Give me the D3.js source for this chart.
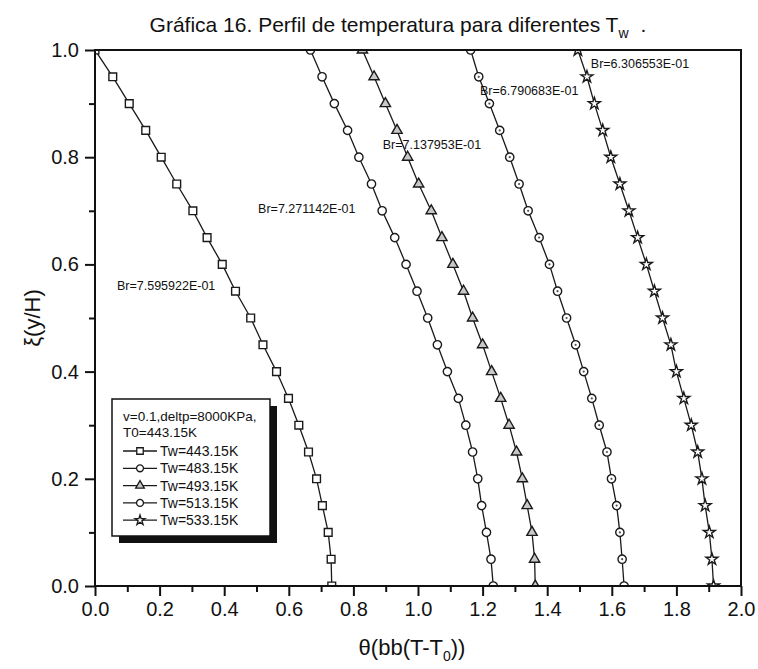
<!DOCTYPE html>
<html>
<head>
<meta charset="utf-8">
<script src="https://cdn.jsdelivr.net/npm/d3@7"></script>
<style>
  html, body { margin: 0; padding: 0; background: #fff; }
  svg { display: block; font-family: Arial, "Liberation Sans", sans-serif; }
</style>
</head>
<body>
<svg id="chart" width="758" height="669"></svg>
<script>
// Dimensionless height ξ = y/H for every profile
const xi = [0.00, 0.05, 0.10, 0.15, 0.20, 0.25, 0.30, 0.35, 0.40, 0.45, 0.50,
            0.55, 0.60, 0.65, 0.70, 0.75, 0.80, 0.85, 0.90, 0.95, 1.00];

// θ values for each wall temperature (same order as xi)
const thetaTw443 = [0.733, 0.731, 0.722, 0.704, 0.686, 0.661, 0.631, 0.599, 0.562, 0.520, 0.482,
                    0.435, 0.394, 0.347, 0.303, 0.253, 0.205, 0.157, 0.106, 0.055, 0.000];
const thetaTw483 = [1.233, 1.226, 1.212, 1.197, 1.185, 1.169, 1.148, 1.125, 1.091, 1.060, 1.030,
                    0.997, 0.963, 0.928, 0.889, 0.856, 0.817, 0.782, 0.741, 0.703, 0.667];
const thetaTw493 = [1.363, 1.361, 1.353, 1.338, 1.323, 1.305, 1.282, 1.256, 1.228, 1.200, 1.169,
                    1.141, 1.108, 1.074, 1.041, 1.002, 0.968, 0.935, 0.899, 0.864, 0.828];
const thetaTw513 = [1.638, 1.632, 1.625, 1.615, 1.599, 1.585, 1.561, 1.538, 1.513, 1.488, 1.460,
                    1.432, 1.407, 1.375, 1.341, 1.313, 1.284, 1.253, 1.221, 1.188, 1.163];
const thetaTw533 = [1.915, 1.910, 1.902, 1.889, 1.879, 1.866, 1.846, 1.823, 1.800, 1.783, 1.757,
                    1.732, 1.707, 1.680, 1.653, 1.625, 1.597, 1.572, 1.546, 1.523, 1.495];

const seriesNames = ["Tw=443.15K", "Tw=483.15K", "Tw=493.15K", "Tw=513.15K", "Tw=533.15K"];
const brinkman = ["Br=7.595922E-01", "Br=7.271142E-01", "Br=7.137953E-01", "Br=6.790683E-01", "Br=6.306553E-01"];

const xTicks = [0.0, 0.2, 0.4, 0.6, 0.8, 1.0, 1.2, 1.4, 1.6, 1.8, 2.0];
const yTicks = [0.0, 0.2, 0.4, 0.6, 0.8, 1.0];
const xMinorTicks = [0.1, 0.3, 0.5, 0.7, 0.9, 1.1, 1.3, 1.5, 1.7, 1.9];
const yMinorTicks = [0.1, 0.3, 0.5, 0.7, 0.9];

const legendHeader = ["v=0.1,deltp=8000KPa,", "T0=443.15K"];

// ---------- layout ----------
const svg = d3.select("#chart");
const plot = { left: 95, right: 741, top: 50, bottom: 586 };

const x = d3.scaleLinear().domain([0, 2]).range([plot.left, plot.right]);
const y = d3.scaleLinear().domain([0, 1]).range([plot.bottom, plot.top]);

const allSeries = [thetaTw443, thetaTw483, thetaTw493, thetaTw513, thetaTw533];
const markerStyle = [
  { type: d3.symbolSquare,   size: 60, fill: "#fff",    dot: false },
  { type: d3.symbolCircle,   size: 54, fill: "#fff",    dot: false },
  { type: d3.symbolTriangle, size: 46, fill: "#c8c8c8", dot: false },
  { type: d3.symbolCircle,   size: 54, fill: "#fff",    dot: true  },
  { type: d3.symbolStar,     size: 44, fill: "#fff",    dot: false }
];
// anchor of each Br annotation, in data units (θ, ξ)
const brAnchor = [[0.068, 0.552], [0.505, 0.696], [0.891, 0.815], [1.192, 0.916], [1.535, 0.966]];

// ---------- title ----------
const title = svg.append("text")
  .attr("x", 398).attr("y", 32)
  .attr("text-anchor", "middle")
  .attr("font-size", 21)
  .attr("fill", "#111");
title.append("tspan").text("Gráfica 16. Perfil de temperatura para diferentes T");
title.append("tspan").attr("font-size", 14).attr("dy", 6).text("w");
title.append("tspan").attr("dy", -6).attr("dx", 12).attr("font-size", 21).text(".");

// ---------- axes ----------
const axisX = svg.append("g").attr("transform", `translate(0,${plot.bottom})`)
  .call(d3.axisBottom(x).tickValues(xTicks).tickFormat(d3.format(".1f")).tickSize(10).tickPadding(6));
const axisXMinor = svg.append("g").attr("transform", `translate(0,${plot.bottom})`)
  .call(d3.axisBottom(x).tickValues(xMinorTicks).tickFormat("").tickSize(6));
const axisY = svg.append("g").attr("transform", `translate(${plot.left},0)`)
  .call(d3.axisLeft(y).tickValues(yTicks).tickFormat(d3.format(".1f")).tickSize(10).tickPadding(6));
const axisYMinor = svg.append("g").attr("transform", `translate(${plot.left},0)`)
  .call(d3.axisLeft(y).tickValues(yMinorTicks).tickFormat("").tickSize(6));

[axisX, axisXMinor, axisY, axisYMinor].forEach(g => {
  g.select(".domain").remove();
  g.selectAll(".tick line").attr("stroke", "#111").attr("stroke-width", 2);
  g.selectAll(".tick text").attr("font-size", 20).attr("fill", "#111")
    .attr("font-family", "Arial, 'Liberation Sans', sans-serif");
});

// frame
svg.append("rect")
  .attr("x", plot.left).attr("y", plot.top)
  .attr("width", plot.right - plot.left).attr("height", plot.bottom - plot.top)
  .attr("fill", "none").attr("stroke", "#111").attr("stroke-width", 2);

// axis titles
const xTitle = svg.append("text")
  .attr("x", 412).attr("y", 655)
  .attr("text-anchor", "middle").attr("font-size", 22).attr("fill", "#111");
xTitle.append("tspan").text("θ(bb(T-T");
xTitle.append("tspan").attr("font-size", 14).attr("dy", 6).text("0");
xTitle.append("tspan").attr("dy", -6).text("))");

svg.append("text")
  .attr("transform", `translate(40,${(plot.top + plot.bottom) / 2}) rotate(-90)`)
  .attr("text-anchor", "middle").attr("font-size", 22).attr("fill", "#111")
  .text("ξ(y/H)");

// ---------- data ----------
svg.append("clipPath").attr("id", "plotClip")
  .append("rect")
  .attr("x", plot.left).attr("y", plot.top)
  .attr("width", plot.right - plot.left).attr("height", plot.bottom - plot.top);

const dataLayer = svg.insert("g", "rect").attr("clip-path", "url(#plotClip)");

const line = d3.line().x(d => x(d[0])).y(d => y(d[1]));

allSeries.forEach((theta, s) => {
  const pts = theta.map((t, i) => [t, xi[i]]);
  const g = dataLayer.append("g");
  g.append("path").datum(pts)
    .attr("d", line).attr("fill", "none")
    .attr("stroke", "#1a1a1a").attr("stroke-width", 1.3);
  const st = markerStyle[s];
  const sym = d3.symbol().type(st.type).size(st.size);
  g.selectAll("path.m").data(pts).join("path")
    .attr("class", "m")
    .attr("transform", d => `translate(${x(d[0])},${y(d[1])})`)
    .attr("d", sym)
    .attr("fill", st.fill).attr("stroke", "#1a1a1a").attr("stroke-width", 1.4);
  if (st.dot) {
    g.selectAll("circle.dot").data(pts).join("circle")
      .attr("class", "dot")
      .attr("cx", d => x(d[0])).attr("cy", d => y(d[1]))
      .attr("r", 1.1).attr("fill", "#555");
  }
});

// Brinkman number annotations
brinkman.forEach((txt, i) => {
  svg.append("text")
    .attr("x", x(brAnchor[i][0])).attr("y", y(brAnchor[i][1]))
    .attr("font-size", 12.5).attr("fill", "#111")
    .text(txt);
});

// ---------- legend ----------
const lg = { x: 112, y: 399, w: 158, h: 137, shadow: 7 };
svg.append("rect")
  .attr("x", lg.x + lg.shadow).attr("y", lg.y + lg.shadow)
  .attr("width", lg.w).attr("height", lg.h).attr("fill", "#111");
svg.append("rect")
  .attr("x", lg.x).attr("y", lg.y).attr("width", lg.w).attr("height", lg.h)
  .attr("fill", "#fff").attr("stroke", "#111").attr("stroke-width", 1.5);

legendHeader.forEach((t, i) => {
  svg.append("text")
    .attr("x", lg.x + 11).attr("y", lg.y + 22 + i * 16)
    .attr("font-size", 13.5).attr("fill", "#111").text(t);
});

seriesNames.forEach((name, i) => {
  const cy = lg.y + 52 + i * 17.3;
  const st = markerStyle[i];
  svg.append("line")
    .attr("x1", lg.x + 11).attr("x2", lg.x + 45)
    .attr("y1", cy).attr("y2", cy)
    .attr("stroke", "#1a1a1a").attr("stroke-width", 1.3);
  svg.append("path")
    .attr("transform", `translate(${lg.x + 28},${cy})`)
    .attr("d", d3.symbol().type(st.type).size(st.size * 0.7))
    .attr("fill", st.fill).attr("stroke", "#1a1a1a").attr("stroke-width", 1.3);
  svg.append("text")
    .attr("x", lg.x + 48).attr("y", cy + 5)
    .attr("font-size", 14).attr("fill", "#111").text(name);
});
</script>
</body>
</html>
